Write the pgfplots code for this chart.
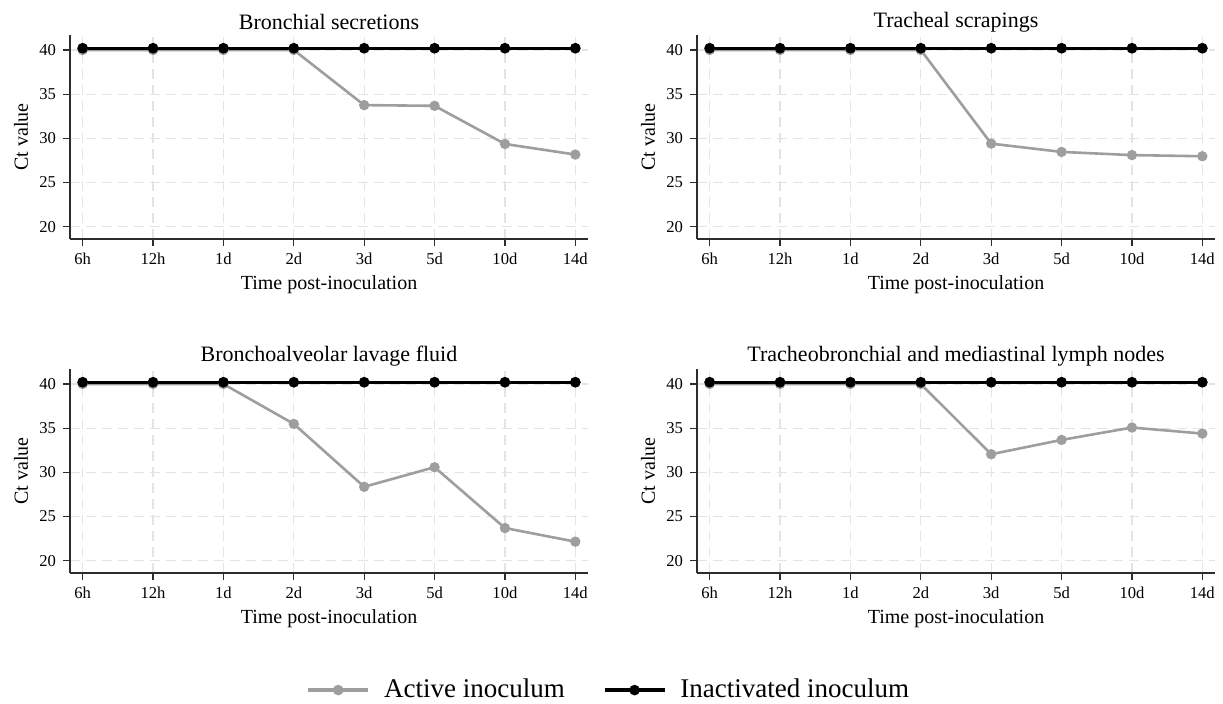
\documentclass[border=0pt]{standalone}
\usepackage{fontspec}
\setmainfont{Liberation Serif}
\usepackage{pgfplots}
\pgfplotsset{compat=1.18}
\definecolor{activegray}{RGB}{158,158,158}
\definecolor{gridgray}{RGB}{228,228,228}
\definecolor{axisgray}{RGB}{45,45,45}

\pgfplotsset{
 panel/.style={
  scale only axis, width=259pt, height=102pt,
  xmin=-0.18, xmax=7.18, ymin=18.6, ymax=41.7,
  axis lines*=left, axis line style={axisgray, line width=0.7pt},
  xtick={0,...,7}, xticklabels={6h,12h,1d,2d,3d,5d,10d,14d},
  ytick={20,25,30,35,40},
  tick align=outside, major tick length=3.5pt, tick style={axisgray, line width=0.6pt},
  grid=major, grid style={gridgray, dash pattern=on 5pt off 3pt, line width=0.6pt},
  /pgf/number format/assume math mode=true,
  tick label style={font=\fontsize{8.3}{9}\selectfont},
  label style={font=\fontsize{10}{12}\selectfont},
  title style={font=\fontsize{11}{13}\selectfont, at={(0.5,1.005)}, anchor=center},
  ylabel={Ct value}, xlabel={Time post-inoculation},
  xlabel style={at={(0.5,-0.225)}, anchor=center},
  ylabel style={at={(-0.0946,0.5)}, anchor=center},
  clip=false,
 },
 active/.style={activegray, line width=1.3pt, mark=*, mark size=1.9pt, mark options={solid, fill=activegray}},
 inact/.style={black, line width=1.5pt, mark=*, mark size=1.9pt, mark options={solid, fill=black}},
}

\begin{document}
\begin{tikzpicture}
\useasboundingbox (0,0) rectangle (611.5pt,351.5pt);

% Top-left
\begin{axis}[panel, at={(35pt,232pt)}, anchor=south west, title={Bronchial secretions}]
\addplot[active] coordinates {(0,40) (1,40) (2,40) (3,40) (4,33.76) (5,33.68) (6,29.36) (7,28.16)};
\addplot[inact] coordinates {(0,40.2) (1,40.2) (2,40.2) (3,40.2) (4,40.2) (5,40.2) (6,40.2) (7,40.2)};
\end{axis}

% Top-right
\begin{axis}[panel, at={(348.5pt,232pt)}, anchor=south west, title={Tracheal scrapings}]
\addplot[active] coordinates {(0,40) (1,40) (2,40) (3,40) (4,29.4) (5,28.46) (6,28.1) (7,27.97)};
\addplot[inact] coordinates {(0,40.2) (1,40.2) (2,40.2) (3,40.2) (4,40.2) (5,40.2) (6,40.2) (7,40.2)};
\end{axis}

% Bottom-left
\begin{axis}[panel, at={(35pt,65pt)}, anchor=south west, title={Bronchoalveolar lavage fluid},
  legend style={at={(1.042,-0.574)}, anchor=center, legend columns=2, draw=none, fill=none,
    font=\fontsize{13.5}{16}\selectfont,
    /tikz/every odd column/.append style={column sep=5pt},
    /tikz/every even column/.append style={column sep=17pt}},
  legend cell align=left,
  legend image code/.code={\draw[mark repeat=2,mark phase=2,#1, line width=1.8pt, mark size=1.7pt] plot coordinates {(0pt,0pt) (15pt,0pt) (30pt,0pt)};}]
\addplot[active] coordinates {(0,40) (1,40) (2,40) (3,35.48) (4,28.36) (5,30.58) (6,23.69) (7,22.15)};
\addlegendentry{Active inoculum}
\addplot[inact] coordinates {(0,40.2) (1,40.2) (2,40.2) (3,40.2) (4,40.2) (5,40.2) (6,40.2) (7,40.2)};
\addlegendentry{Inactivated inoculum}
\end{axis}

% Bottom-right
\begin{axis}[panel, at={(348.5pt,65pt)}, anchor=south west, title={Tracheobronchial and mediastinal lymph nodes}]
\addplot[active] coordinates {(0,40) (1,40) (2,40) (3,40) (4,32.05) (5,33.67) (6,35.07) (7,34.39)};
\addplot[inact] coordinates {(0,40.2) (1,40.2) (2,40.2) (3,40.2) (4,40.2) (5,40.2) (6,40.2) (7,40.2)};
\end{axis}
\end{tikzpicture}
\end{document}
